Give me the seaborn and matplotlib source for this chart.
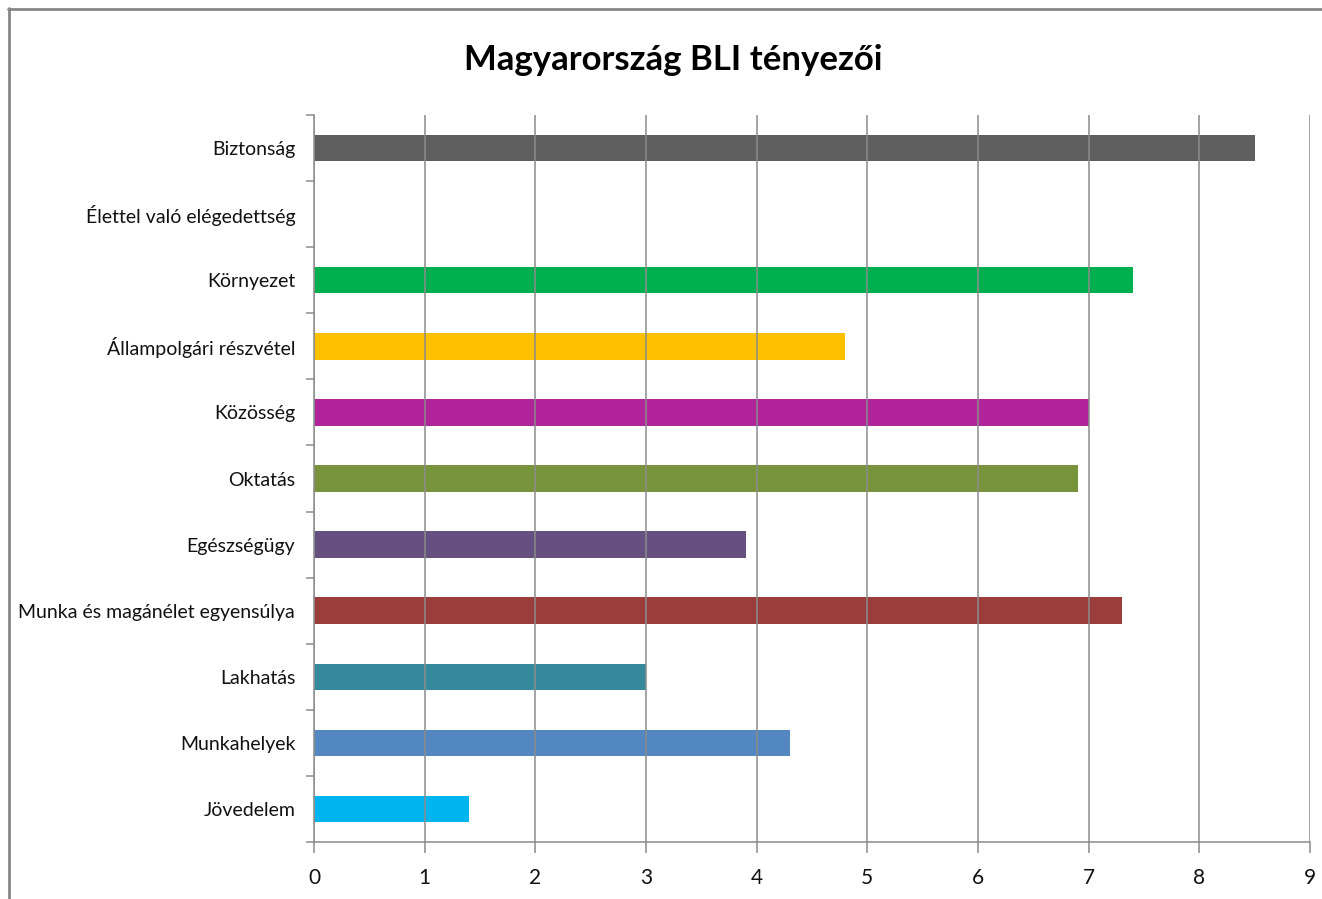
import numpy as np
import pandas as pd
import seaborn as sns
import matplotlib.pyplot as plt
from matplotlib.lines import Line2D

# adatok (felülről lefelé)
categories = ["Biztonság", "Élettel való elégedettség", "Környezet",
              "Állampolgári részvétel", "Közösség", "Oktatás", "Egészségügy",
              "Munka és magánélet egyensúlya", "Lakhatás", "Munkahelyek",
              "Jövedelem"]
values = [8.5, 0, 7.4, 4.8, 7.0, 6.9, 3.9, 7.3, 3.0, 4.3, 1.4]
colors = ["#5f5f5f", "#ffffff", "#00b050", "#ffc000", "#b2259a", "#77933c",
          "#66507f", "#9b3d3b", "#34899d", "#5387c2", "#00b4ef"]
x_ticks = list(range(0, 10))

sns.set_theme(style="white")
plt.rcParams["font.family"] = ["Lato", "DejaVu Sans"]

df = pd.DataFrame({"kategoria": categories, "ertek": values})

fig = plt.figure(figsize=(13.22, 8.99), dpi=100)
ax = fig.add_axes([314 / 1322, 57 / 899, 996 / 1322, 727 / 899])

sns.barplot(data=df, x="ertek", y="kategoria", hue="kategoria",
            palette=colors, legend=False, width=0.4, ax=ax,
            saturation=1, edgecolor="none", linewidth=0)

grid_c = "#8c8c8c"
ax.set_xlim(0, 9)
ax.set_ylim(10.5, -0.5)
ax.set_xticks(x_ticks)
ax.set_xticklabels([str(t) for t in x_ticks])
ax.set_yticks(np.arange(-0.5, 11, 1), minor=True)
ax.grid(axis="x", color=grid_c, linewidth=1.1)
ax.set_axisbelow(False)
ax.set_xlabel("")
ax.set_ylabel("")

for s in ["top", "right"]:
    ax.spines[s].set_visible(False)
for s in ["left", "bottom"]:
    ax.spines[s].set_color(grid_c)
    ax.spines[s].set_linewidth(1.1)

ax.tick_params(axis="x", which="major", direction="out", length=8,
               color=grid_c, width=1.1, labelsize=15, pad=11,
               labelcolor="#111111", bottom=True)
ax.tick_params(axis="y", which="major", length=0, pad=13.5,
               labelsize=14, labelcolor="#111111")
ax.tick_params(axis="y", which="minor", direction="out", length=6,
               color=grid_c, width=1.1, left=True)

fig.text(0.509, 0.9335, "Magyarország BLI tényezői", ha="center",
         va="center", fontsize=25, fontweight="bold", color="black")

# keret
fig.add_artist(Line2D([8 / 1322, 1], [1 - 9 / 899, 1 - 9 / 899],
                      transform=fig.transFigure, color="#868686", lw=2))
fig.add_artist(Line2D([9 / 1322, 9 / 1322], [0, 1 - 8 / 899],
                      transform=fig.transFigure, color="#868686", lw=2))

fig.savefig("out.png", dpi=100)
